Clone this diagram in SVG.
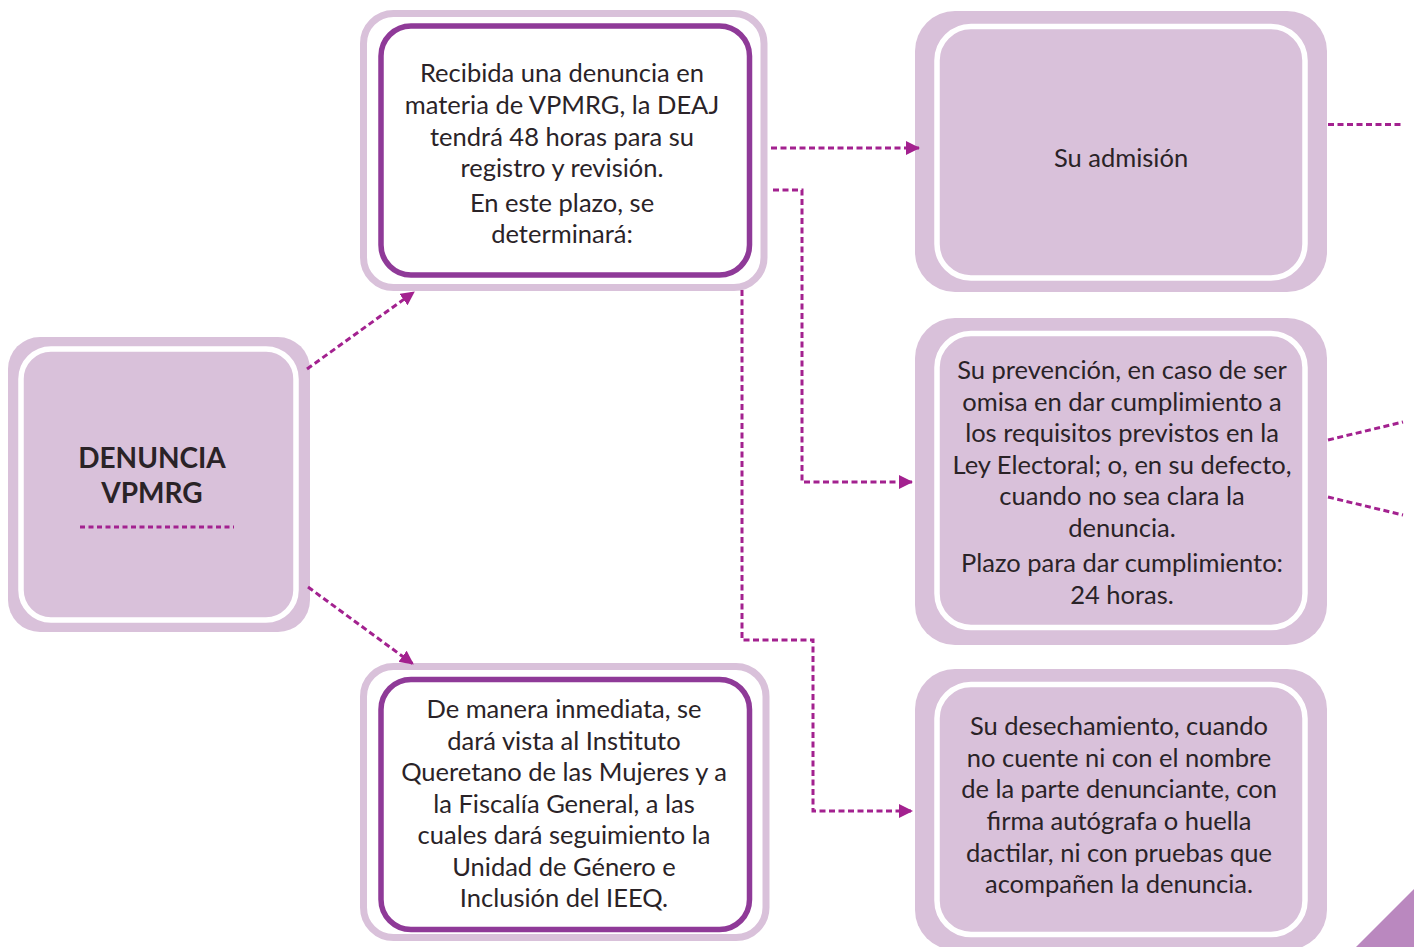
<svg xmlns="http://www.w3.org/2000/svg" width="1414" height="947" viewBox="0 0 1414 947">
  <style>
    .t { font-family: Lato, "Open Sans", "Liberation Sans", sans-serif; font-size: 25.5px; fill: #2a2327; text-anchor: middle; }
    .title { font-family: Lato, "Open Sans", "Liberation Sans", sans-serif; font-size: 28px; font-weight: bold; fill: #2a2327; text-anchor: middle; }
    .lav { fill: #d9c1da; }
    .wring { fill: none; stroke: #ffffff; stroke-width: 5.5; }
    .outer { fill: #ffffff; stroke: #d9c1da; stroke-width: 7; }
    .inner { fill: #ffffff; stroke: #8f3a98; stroke-width: 5.5; }
    .conn { fill: none; stroke: #a3218f; stroke-width: 3; stroke-dasharray: 6 3.5; }
  </style>
  <defs>
    <marker id="arr" markerUnits="userSpaceOnUse" markerWidth="14" markerHeight="14" viewBox="0 0 14 14" refX="13" refY="7" orient="auto">
      <path d="M0,0 L14,7 L0,14 Z" fill="#a3218f"/>
    </marker>
  </defs>

  <g id="node-denuncia">
    <rect class="lav" x="8" y="337" width="302" height="295" rx="32"/>
    <rect class="wring" x="21" y="349" width="275" height="271" rx="30"/>
    <text class="title" x="152" y="468">DENUNCIA</text>
    <text class="title" x="152" y="503">VPMRG</text>
    <line x1="80" y1="527" x2="234" y2="527" stroke="#a3218f" stroke-width="3" stroke-dasharray="5 3.5"/>
  </g>

  <g id="node-recibida">
    <rect class="outer" x="363.5" y="13.5" width="400.5" height="274" rx="30"/>
    <rect class="inner" x="381" y="26" width="368.5" height="249" rx="30"/>
    <text class="t" x="562" y="82">Recibida una denuncia en</text>
    <text class="t" x="562" y="114">materia de VPMRG, la DEAJ</text>
    <text class="t" x="562" y="146">tendrá 48 horas para su</text>
    <text class="t" x="562" y="177">registro y revisión.</text>
    <text class="t" x="562" y="212">En este plazo, se</text>
    <text class="t" x="562" y="243">determinará:</text>
  </g>

  <g id="node-inmediata">
    <rect class="outer" x="363.5" y="666.5" width="402.5" height="271" rx="30"/>
    <rect class="inner" x="381" y="679.5" width="368.5" height="250" rx="30"/>
    <text class="t" x="564" y="718">De manera inmediata, se</text>
    <text class="t" x="564" y="749.5">dará vista al Instituto</text>
    <text class="t" x="564" y="781">Queretano de las Mujeres y a</text>
    <text class="t" x="564" y="812.5">la Fiscalía General, a las</text>
    <text class="t" x="564" y="844">cuales dará seguimiento la</text>
    <text class="t" x="564" y="875.5">Unidad de Género e</text>
    <text class="t" x="564" y="907">Inclusión del IEEQ.</text>
  </g>

  <g id="node-admision">
    <rect class="lav" x="915" y="11" width="412" height="281" rx="40"/>
    <rect class="wring" x="937" y="26.5" width="368" height="251.5" rx="34"/>
    <text class="t" x="1121" y="167">Su admisión</text>
  </g>

  <g id="node-prevencion">
    <rect class="lav" x="915" y="318" width="412" height="327" rx="40"/>
    <rect class="wring" x="937" y="333.5" width="368" height="294" rx="34"/>
    <text class="t" x="1122" y="379">Su prevención, en caso de ser</text>
    <text class="t" x="1122" y="411">omisa en dar cumplimiento a</text>
    <text class="t" x="1122" y="442">los requisitos previstos en la</text>
    <text class="t" x="1122" y="474">Ley Electoral; o, en su defecto,</text>
    <text class="t" x="1122" y="505">cuando no sea clara la</text>
    <text class="t" x="1122" y="537">denuncia.</text>
    <text class="t" x="1122" y="572">Plazo para dar cumplimiento:</text>
    <text class="t" x="1122" y="604">24 horas.</text>
  </g>

  <g id="node-desechamiento">
    <rect class="lav" x="915" y="669" width="412" height="281" rx="40"/>
    <rect class="wring" x="937" y="684.5" width="368" height="250" rx="34"/>
    <text class="t" x="1119" y="735">Su desechamiento, cuando</text>
    <text class="t" x="1119" y="767">no cuente ni con el nombre</text>
    <text class="t" x="1119" y="798">de la parte denunciante, con</text>
    <text class="t" x="1119" y="830">firma autógrafa o huella</text>
    <text class="t" x="1119" y="862">dactilar, ni con pruebas que</text>
    <text class="t" x="1119" y="893">acompañen la denuncia.</text>
  </g>

  <g id="connectors">
    <line class="conn" x1="307" y1="369" x2="414" y2="292" marker-end="url(#arr)"/>
    <line class="conn" x1="308" y1="587" x2="413" y2="664" marker-end="url(#arr)"/>
    <line class="conn" x1="771" y1="148" x2="919" y2="148" marker-end="url(#arr)"/>
    <polyline class="conn" points="773,190 802,190 802,482 912,482" marker-end="url(#arr)"/>
    <polyline class="conn" points="742,290 742,640 813,640 813,811 912,811" marker-end="url(#arr)"/>
    <line class="conn" x1="1328" y1="124.5" x2="1402" y2="124.5"/>
    <line class="conn" x1="1328" y1="440" x2="1403" y2="422"/>
    <line class="conn" x1="1328" y1="497" x2="1403" y2="515"/>
  </g>

  <polygon points="1356,947 1414,889 1414,947" fill="#ba88bf"/>
</svg>
